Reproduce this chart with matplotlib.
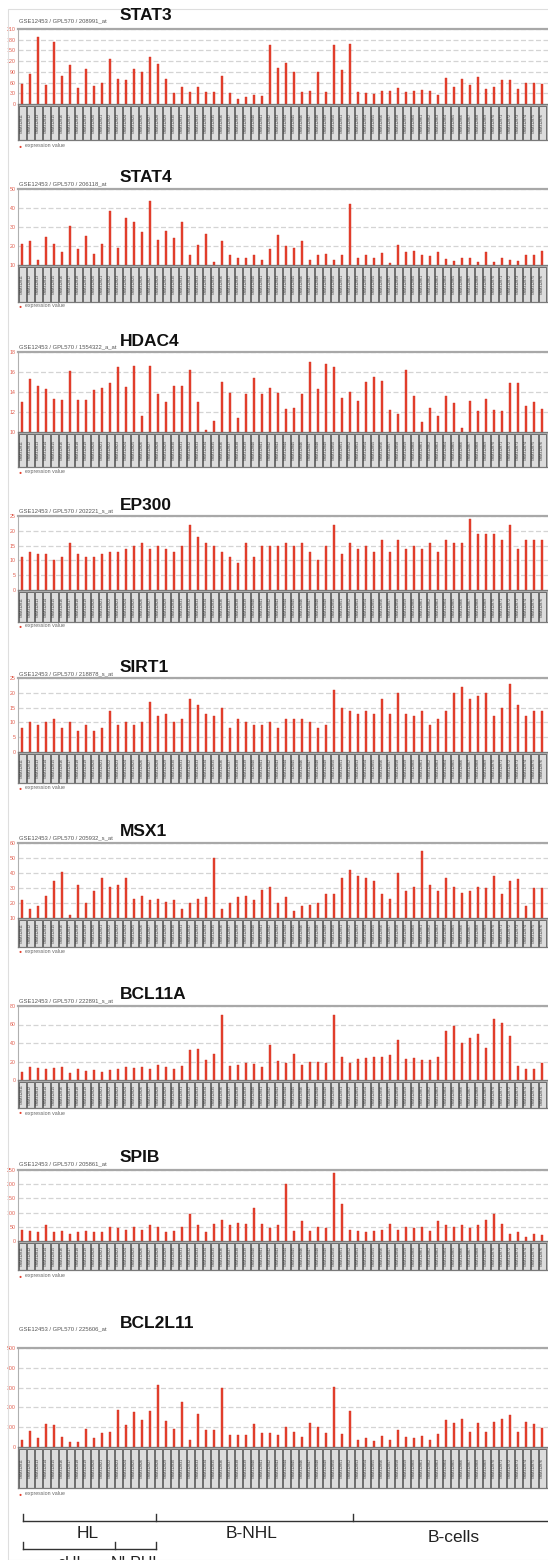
import numpy as np
import matplotlib.pyplot as plt
from matplotlib.patches import Rectangle

plt.rcParams['font.family'] = ['Liberation Sans', 'DejaVu Sans']

W, H = 548, 1560

samples = ["GSM3128%02d" % (11 + i) for i in range(66)]

stat3 = [56, 83, 188, 53, 175, 78, 108, 45, 97, 51, 60, 127, 70, 68, 99, 91, 131, 113, 71, 30,
         47, 35, 49, 35, 34, 79, 30, 13, 19, 26, 23, 164, 100, 115, 90, 33, 37, 91, 33, 164,
         94, 167, 33, 31, 28, 37, 36, 46, 33, 36, 38, 37, 25, 74, 47, 69, 52, 75, 42, 49,
         66, 66, 42, 58, 59, 57]
stat4 = [20.8, 22.4, 12.7, 24.7, 20.8, 17.1, 30.4, 18.3, 25.2, 16.0, 21.3, 38.5, 18.7, 35.0, 32.7, 27.5,
         43.8, 23.1, 28.0, 24.3, 32.7, 15.5, 20.3, 26.1, 11.4, 22.4, 15.1, 13.9, 13.5, 15.5, 12.8, 18.5,
         25.6, 19.9, 19.0, 22.7, 12.7, 15.1, 15.7, 12.5, 15.1, 41.9, 13.7, 15.5, 13.5, 16.4, 11.2, 20.3,
         16.7, 17.3, 15.5, 15.0, 17.1, 13.0, 12.3, 13.5, 13.5, 11.8, 16.7, 11.6, 13.7, 12.7, 12.3, 15.5,
         15.5, 17.3]
hdac4 = [13.0, 15.3, 14.6, 14.3, 13.3, 13.2, 16.1, 13.2, 13.2, 14.2, 14.4, 14.9, 16.5, 14.5, 16.6, 11.6,
         16.6, 13.8, 13.0, 14.6, 14.6, 16.2, 13.0, 10.2, 11.1, 15.0, 13.9, 11.4, 13.8, 15.4, 13.8, 14.4,
         13.9, 12.3, 12.4, 13.8, 17.0, 14.3, 16.8, 16.5, 13.4, 14.0, 13.1, 15.0, 15.5, 15.1, 12.2, 11.8,
         16.2, 13.6, 11.0, 12.4, 11.6, 13.6, 12.9, 10.4, 13.1, 12.1, 13.3, 12.2, 12.1, 14.9, 14.9, 12.6,
         13.0, 12.3]
ep300 = [11, 13, 12, 12, 10, 11, 16, 12, 11, 11, 12, 13, 13, 14, 15, 16, 14, 15, 14, 13,
         15, 22, 18, 16, 15, 13, 11, 9, 16, 11, 15, 15, 15, 16, 15, 16, 13, 10, 15, 22,
         12, 16, 14, 15, 13, 17, 13, 17, 14, 15, 14, 16, 13, 17, 16, 16, 24, 19, 19, 19,
         17, 22, 14, 17, 17, 17]
sirt1 = [8, 10, 9, 10, 11, 8, 10, 7, 9, 7, 8, 14, 9, 10, 9, 10, 17, 12, 13, 10,
         11, 18, 16, 13, 12, 15, 8, 11, 10, 9, 9, 10, 8, 11, 11, 11, 10, 8, 9, 21,
         15, 14, 13, 14, 13, 18, 13, 20, 13, 12, 14, 9, 11, 14, 20, 22, 18, 19, 20, 12,
         15, 23, 16, 12, 14, 14]
msx1 = [22, 16, 18, 25, 35, 41, 12, 32, 20, 28, 37, 31, 32, 37, 23, 25, 22, 23, 21, 22,
        16, 20, 23, 24, 50, 16, 20, 24, 25, 22, 29, 31, 20, 24, 15, 18, 19, 20, 26, 26,
        37, 42, 38, 37, 35, 26, 23, 40, 28, 31, 55, 32, 28, 37, 31, 27, 28, 31, 30, 38,
        26, 35, 36, 18, 30, 30]
bcl11a = [9, 14, 13, 12, 13, 14, 8, 12, 10, 11, 9, 11, 12, 14, 13, 14, 12, 16, 14, 12,
          15, 32, 33, 22, 28, 70, 15, 16, 18, 17, 14, 38, 21, 18, 28, 16, 20, 20, 18, 70,
          25, 18, 23, 24, 25, 25, 27, 43, 23, 24, 22, 22, 25, 53, 58, 40, 45, 50, 35, 66,
          62, 48, 15, 12, 12, 18]
spib = [40, 35, 30, 55, 30, 35, 25, 30, 35, 30, 32, 50, 45, 40, 50, 40, 55, 50, 30, 35,
        50, 95, 55, 30, 60, 75, 55, 65, 60, 115, 60, 45, 55, 200, 35, 70, 35, 50, 45, 240,
        130, 40, 35, 30, 35, 40, 60, 40, 50, 45, 50, 35, 70, 55, 50, 55, 45, 55, 75, 95,
        60, 25, 30, 15, 25, 20]
bcl2l11 = [34, 79, 46, 116, 109, 52, 27, 27, 91, 46, 71, 77, 188, 112, 177, 134, 182, 312, 129, 89,
           226, 35, 168, 88, 86, 296, 62, 60, 60, 115, 69, 71, 63, 102, 78, 48, 123, 99, 71, 305,
           65, 180, 34, 43, 31, 55, 33, 84, 52, 46, 55, 37, 66, 135, 119, 142, 77, 120, 78, 128,
           140, 160, 77, 128, 114, 96]

genes = ["STAT3", "STAT4", "HDAC4", "EP300", "SIRT1", "MSX1", "BCL11A", "SPIB", "BCL2L11"]
probes = ["208991_at", "206118_at", "1554322_a_at", "202221_s_at", "218878_s_at",
          "205932_s_at", "222891_s_at", "205861_at", "225606_at"]
values = [stat3, stat4, hdac4, ep300, sirt1, msx1, bcl11a, spib, bcl2l11]
yticks = [list(range(0, 211, 30)), list(range(10, 51, 10)), list(range(10, 19, 2)),
          list(range(0, 26, 5)), list(range(0, 26, 5)), list(range(10, 61, 10)),
          list(range(0, 81, 20)), list(range(0, 251, 50)), list(range(0, 501, 100))]
ylims = [(0, 210), (10, 50), (10, 18), (0, 25), (0, 25), (10, 60), (0, 80), (0, 250), (0, 500)]

# pixel rows of each panel: title, plot top, baseline, label strip bottom, legend
rows = [(15, 29, 104, 140, 146), (178, 189, 265, 302, 306), (341, 352, 432, 467, 472),
        (505, 516, 590, 622, 626), (668, 678, 752, 783, 788), (832, 843, 918, 947, 951),
        (995, 1006, 1080, 1108, 1113), (1158, 1170, 1241, 1270, 1276), (1323, 1348, 1447, 1488, 1494)]

RED = "#e5412f"
X0, X1 = 18, 549
x = np.arange(66)
xl = (-0.54, -0.54 + (X1 - X0) / 8.0)


def frac(x0, y0, x1, y1):
    return [x0 / W, 1 - y1 / H, (x1 - x0) / W, (y1 - y0) / H]


fig = plt.figure(figsize=(W / 100, H / 100), dpi=100)
fig.patches.append(Rectangle((8 / W, 0), 1, 1 - 9 / H, transform=fig.transFigure,
                             fill=False, edgecolor="#dedede", lw=0.8))

for gene, probe, vals, ticks, (lo, hi), (ty, top, base, bot, leg) in zip(
        genes, probes, values, yticks, ylims, rows):
    ax = fig.add_axes(frac(X0, top, X1, base))
    v = np.array(vals, dtype=float)
    ax.bar(x, v - lo, bottom=lo, width=0.26, color=RED, edgecolor="#d23020", lw=0.3, zorder=3)
    ax.set_xlim(*xl)
    ax.set_ylim(lo, hi)
    ax.set_yticks(ticks)
    ax.set_yticklabels([str(t) for t in ticks], fontsize=3.8, color="#e05a4a")
    ax.tick_params(axis="y", length=0, pad=1.5)
    ax.set_xticks([])
    ax.yaxis.grid(True, color="#d4d4d4", lw=0.9, ls=(0, (4, 2)))
    ax.set_axisbelow(True)
    for s in ["right", "bottom"]:
        ax.spines[s].set_visible(False)
    ax.spines["top"].set_color("#a8a8a8")
    ax.spines["top"].set_linewidth(1.6)
    ax.spines["left"].set_color("#b0b0b0")
    ax.spines["left"].set_linewidth(0.8)

    # grey strip with one boxed sample name per bar
    lab = fig.add_axes(frac(X0, base, X1, bot))
    lab.set_facecolor("#b4b4b4")
    lab.bar(x, 0.94, bottom=0.0, width=0.8, color="#dcdcdc", edgecolor="#5e5e5e", lw=0.6)
    for i, s in enumerate(samples):
        lab.text(i, 0.48, s, rotation=90, fontsize=2.6, color="#3a3a3a", ha="center", va="center")
    lab.set_xlim(*xl)
    lab.set_ylim(0, 1)
    lab.set_xticks([])
    lab.set_yticks([])
    for s in lab.spines.values():
        s.set_color("#7a7a7a")
        s.set_linewidth(0.9)

    fig.text(120 / W, 1 - ty / H, gene, fontsize=12.5, fontweight="bold", color="#111111",
             ha="left", va="center")
    fig.text(19 / W, 1 - (ty + 6) / H, "GSE12453 / GPL570 / " + probe, fontsize=4.2,
             color="#555555", ha="left", va="center")
    fig.text(20 / W, 1 - leg / H, "\u25cf", fontsize=3.6, color=RED, ha="center", va="center")
    fig.text(25 / W, 1 - leg / H, "expression value", fontsize=3.8, color="#666666",
             ha="left", va="center")

# sample group brackets under the last panel
br = fig.add_axes([0, 0, 1, 1], facecolor="none")
br.set_xlim(0, W)
br.set_ylim(H, 0)
br.axis("off")
k = dict(color="#333333", lw=1.0)
br.plot([22.7, 548], [1520.5, 1520.5], **k)
for xt in [22.7, 156.3, 353]:
    br.plot([xt, xt], [1514, 1520.5], **k)
br.plot([22.7, 156.3], [1549, 1549], **k)
for xt in [22.7, 115.4, 156.3]:
    br.plot([xt, xt], [1542, 1549], **k)
br.text(87.4, 1534, "HL", fontsize=12.5, ha="center", va="center", color="#222222")
br.text(251.7, 1534, "B-NHL", fontsize=12.5, ha="center", va="center", color="#222222")
br.text(453.5, 1537, "B-cells", fontsize=12.5, ha="center", va="center", color="#222222")
br.text(71.7, 1563, "cHL", fontsize=11.5, ha="center", va="center", color="#222222")
br.text(136.4, 1563, "NLPHL", fontsize=11.5, ha="center", va="center", color="#222222")

fig.savefig("out.png", dpi=100)
